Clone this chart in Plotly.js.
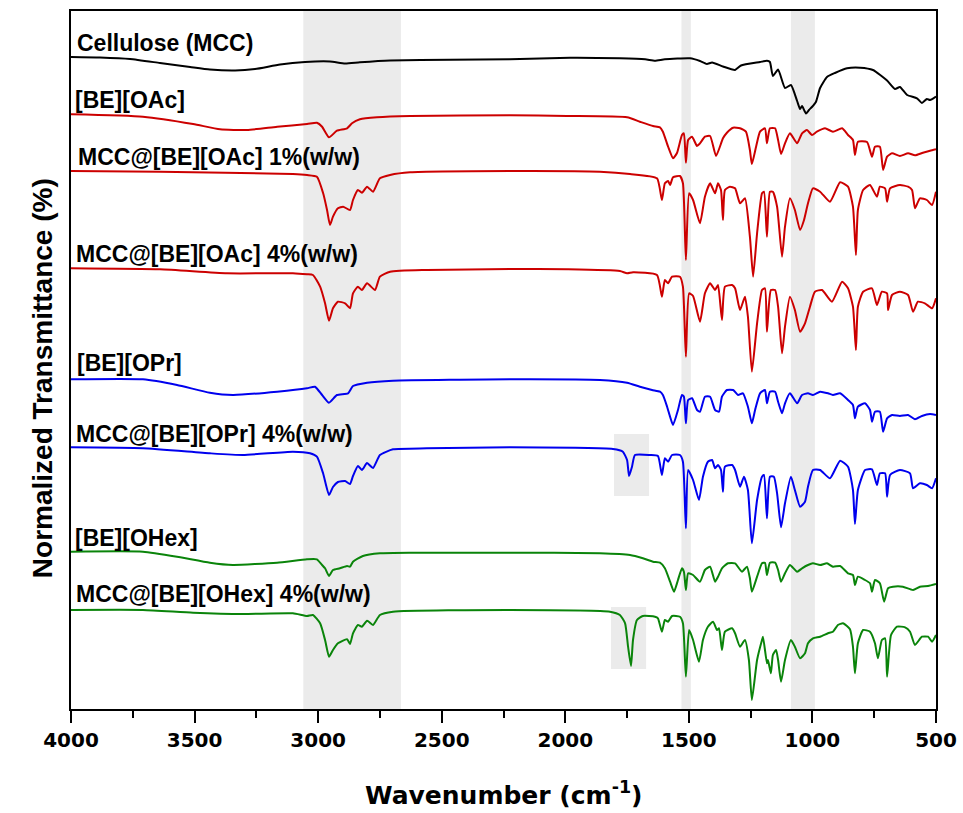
<!DOCTYPE html>
<html><head><meta charset="utf-8">
<script src="https://cdn.plot.ly/plotly-3.0.1.min.js"></script>
<style>html,body{margin:0;padding:0;background:#fff;}#chart{width:963px;height:813px;}</style>
</head><body><div id="chart"></div>
<script>
// ---- Data (wavenumber in cm^-1, offset normalized transmittance in arbitrary units) ----
const wnMCC = [4000,3883,3761,3640,3518,3438,3336,3255,3154,3053,2952,2891,2831,2709,2466,2224,1981,1779,1677,1637,1597,1495,1455,1427,1406,1362,1313,1289,1212,1184,1172,1160,1139,1111,1087,1062,1050,1042,1026,1014,1002,986,969,941,909,860,807,755,698,666,646,617,577,557,537,524,500];
const tMCC = [652,651.5,650,646,642,639.5,638.5,640,644.5,647,647.5,645.5,646.7,648.5,649.3,649.7,651.3,650.7,649.7,648.3,649.7,650.7,648,645,646.5,642.5,639,643.5,647,648.3,647,633,639.5,621,624,608,600,603,595.5,599,602,607,621,632,636,640.7,641.3,639,628.5,620,622,614,610.7,606,610,609,612.5];

const wnOAc = [4000,3709,3506,3397,3288,3166,3045,3005,2984,2956,2924,2883,2863,2831,2762,2628,2224,1993,1750,1698,1645,1617,1605,1584,1564,1548,1528,1520,1512,1503,1487,1467,1455,1435,1414,1390,1362,1346,1321,1293,1269,1253,1245,1228,1212,1192,1184,1172,1151,1139,1127,1111,1091,1062,1042,1022,1002,982,949,917,880,856,836,828,816,779,759,747,727,714,698,678,646,613,585,553,524,500];
const tOAc = [594.7,592.3,585,579.7,579,582.3,585,586.3,582.3,571.7,578.3,580.7,585.7,589.7,591.7,593,593.7,593,591.7,587.3,583,581.7,577.3,562.3,550.7,556,574,575.7,546.3,569,572.3,563,565.7,572.3,573,553,570.7,576.3,581.3,580.7,577.3,559,545,562.3,577.3,580.7,565.7,580.7,580.7,569,555,565.7,575.7,565.7,575.7,579,574,577.3,580.7,577.3,580.7,574,569,554,567.3,567,552.3,562.3,562.3,539,552.3,555.7,553,555.7,553.7,556.3,558.3,559.7];

const wnOAc1 = [4000,3640,3102,3045,3005,2980,2964,2952,2940,2920,2899,2871,2859,2839,2823,2802,2778,2750,2709,2628,2224,1860,1738,1629,1609,1597,1584,1576,1564,1536,1524,1512,1499,1483,1455,1435,1414,1394,1382,1370,1362,1354,1334,1313,1293,1273,1253,1240,1224,1204,1196,1184,1172,1160,1143,1123,1111,1091,1071,1050,1034,1018,998,969,929,888,856,836,824,816,795,767,739,727,706,698,686,646,613,597,585,565,537,516,500];
const tOAc1 = [538,537.3,535,534,532.3,516,499,484,492.3,500.7,502.3,499,509,519,516.3,522.3,517.3,530.7,534,536.7,538,537.3,535,530.7,509,525.7,528,524,531.7,533,525.7,449,515.7,509,485.7,512.3,525.7,515.7,525.7,519,489,519,522.3,520.7,505.7,510.7,472.3,432.3,475.7,515.7,517.3,472.3,517.3,517.3,502.3,452.3,482.3,510.7,499,479,489,505.7,520.7,517.3,507.3,526.7,522.3,502.3,454,499,519,524,512.3,522.3,520.7,507.3,520.7,524,522.3,519,500.7,510.7,509,504,517.3];

const wnOAc4 = [4000,3640,3369,3102,3045,3021,2992,2972,2956,2940,2920,2891,2871,2859,2839,2823,2802,2770,2750,2709,2560,2224,1993,1779,1750,1726,1629,1609,1597,1584,1568,1536,1524,1512,1499,1483,1455,1435,1414,1394,1382,1366,1354,1325,1313,1293,1273,1261,1245,1224,1204,1192,1184,1168,1151,1139,1123,1111,1091,1071,1050,1030,1010,990,961,921,880,856,836,824,816,795,759,739,719,698,694,678,646,613,593,573,545,516,500];
const tOAc4 = [440.7,439.7,435.7,435.7,434.7,434,422.3,405.7,388.3,400.7,407.3,405.7,400.7,415.7,422.3,419,425.7,419,432.3,437.3,439,440,439.7,438,435.7,436.7,434,412.3,429,425.7,432.3,432.3,422.3,352.3,415.7,413,387.3,415.7,425.7,419,424,389,422.3,424,420.7,399,412.3,392.3,337.3,385.7,419,420.7,377.3,419,419,402.3,355.7,382.3,412.3,399,377.3,385.7,402.3,417.3,419,407.3,427.3,420.7,402.3,359,402.3,417.3,420.7,404,417.3,415.7,399,414,417.3,414,397.3,407.3,405.7,400.7,410.7];

const wnOPr = [4000,3709,3571,3438,3345,3166,3045,3013,2984,2956,2924,2879,2859,2802,2697,2224,1860,1750,1698,1649,1617,1605,1588,1576,1564,1544,1528,1520,1512,1503,1487,1467,1455,1435,1414,1394,1378,1366,1346,1321,1301,1281,1261,1245,1232,1212,1192,1184,1172,1151,1139,1123,1111,1091,1062,1042,1018,998,969,937,917,888,856,836,828,816,787,767,759,747,727,714,698,678,646,613,585,557,524,500];
const tOPr = [329.7,329.7,324,316.3,314,317.3,320.7,322.3,314,306.3,314,315.7,323,326.3,328.3,329.7,329,326.3,322.3,319,317.3,314,302.3,292.3,284,299,314,312.3,285.7,309,310.7,299,297.3,312.3,312.3,299,297.3,312.3,319,319,314,315.7,302.3,285.7,299,315.7,319,305.7,317.3,317.3,307.3,295.7,305.7,315.7,305.7,314,315.7,314,317.3,315.7,314,315.7,309,304,290.7,302.3,305.7,299,287.3,297.3,297.3,277.3,290.7,294,293,294,289.7,293,295,294];

const wnOPr4 = [4000,3709,3438,3304,3102,3033,3005,2980,2956,2940,2920,2891,2871,2859,2839,2823,2802,2778,2750,2697,2560,2224,1807,1767,1750,1742,1730,1718,1657,1625,1609,1597,1584,1568,1536,1524,1512,1503,1483,1459,1443,1423,1406,1394,1382,1370,1362,1354,1325,1313,1293,1277,1261,1245,1224,1204,1196,1184,1172,1156,1143,1127,1111,1087,1071,1050,1030,1018,998,969,929,888,856,836,828,816,787,759,739,727,706,698,686,646,605,593,565,537,516,500];
const tOPr4 = [261.7,260.7,255.7,254,257.3,255.7,252.3,235.7,214,222,227,228,225,233,243,239,246,241,254,259.7,260.7,261.7,260,257.3,249,233,242.3,254,254,253,234,250.7,247.3,254,254,247.3,180.7,239,229,209,232.3,247.3,249,240.7,244,239,217.3,242.3,244,239,222.3,232.3,219,165.7,209,232.3,234,190.7,232.3,232.3,215.7,181.7,205.7,232.3,219,202.3,207.3,222.3,239,239,230.7,248.3,242.3,219,185,219,239,239.7,224,235.7,235.7,212.3,234,239,235.7,220.7,225.7,224,220.7,230.7];

const wnOHex = [4000,3709,3571,3438,3345,3166,3045,3005,2984,2972,2956,2940,2912,2883,2871,2859,2819,2750,2628,2224,1860,1738,1686,1645,1617,1597,1576,1560,1544,1528,1520,1512,1503,1483,1455,1435,1414,1394,1382,1366,1342,1313,1285,1265,1253,1245,1224,1204,1192,1184,1172,1151,1139,1127,1111,1091,1062,1042,1018,998,969,941,917,888,856,836,828,816,787,767,759,747,727,710,694,674,634,593,565,532,500];
const tOHex = [157.3,157.3,152.3,146.3,144,146.3,149.7,149.7,144,140.7,133,139,140.7,143,142.3,147.3,153,155.7,156.3,156.3,155.7,154,150.7,147.3,146.3,140.7,127.3,117.3,129,140.7,137.3,119,135.7,134,127.3,139,142.3,127.3,132.3,140.7,145.7,145.7,137.3,142.3,130.7,117.3,132.3,145.7,146.3,134,146.3,146.3,139,127.3,135.7,144,137.3,140.7,144,145.7,144,145.7,142.3,143,135.7,134,124,132.3,129,125.7,117.3,129,125.7,107.3,120.7,122.3,122.3,119,122.3,123,125];

const wnOHex4 = [4000,3709,3506,3304,3102,3045,3021,2992,2972,2956,2940,2920,2883,2871,2859,2839,2823,2802,2778,2750,2697,2224,1819,1779,1758,1746,1734,1726,1710,1686,1637,1625,1609,1597,1584,1568,1536,1524,1512,1499,1483,1459,1443,1423,1402,1386,1378,1366,1354,1325,1313,1293,1273,1257,1245,1224,1204,1200,1184,1180,1168,1160,1147,1139,1127,1111,1087,1071,1050,1030,1018,998,969,937,917,897,876,848,836,828,816,795,767,747,735,719,706,698,682,658,625,605,585,557,532,516,500];
const tOHex4 = [99,99,96.3,95,95.7,93,94,85.7,69,52.3,59,65.7,69.7,65,75.7,84,82.3,88.3,84,94,97.3,99,97.3,94,85.7,62.3,43,69,89,93,92.3,90.7,77.3,89,87.3,93,92.3,85.7,32.3,79,69,47.3,69,82.3,87.3,79,80.7,59,77.3,80.7,75.7,62.3,69,49,9,49,69,72.3,45.7,49,35.7,54,59,49,27.3,49,69,62.3,50.7,55.7,65.7,70.7,72.3,75.7,77.3,84,85.7,79.7,62.3,35.7,65.7,79,77.3,65.7,50.7,69,70.7,32.3,74,82.3,81.7,77.3,64,72.3,72.3,67.3,74];

const seriesLabels = ['Cellulose (MCC)','[BE][OAc]','MCC@[BE][OAc] 1%(w/w)','MCC@[BE][OAc] 4%(w/w)','[BE][OPr]','MCC@[BE][OPr] 4%(w/w)','[BE][OHex]','MCC@[BE][OHex] 4%(w/w)'];
const labelLevels = [666.5,609,552,455,346,275,171,115];
const labelWn = [3984,3992,3980,3988,3984,3988,3992,3988];
const xTickVals = [4000,3500,3000,2500,2000,1500,1000,500];
// highlighted spectral bands (cm^-1)
const bandRanges = [[3060,2665],[1530,1492],[1087,990]];
const carbonylBoxes = [[1803,1661,213,275],[1815,1673,40,102]];

// ---- Build ----
const xs = [wnMCC,wnOAc,wnOAc1,wnOAc4,wnOPr,wnOPr4,wnOHex,wnOHex4];
const ys = [tMCC,tOAc,tOAc1,tOAc4,tOPr,tOPr4,tOHex,tOHex4];
const colors = ['#000000','#cc0000','#cc0000','#cc0000','#0000ee','#0000ee','#0a840a','#0a840a'];

const traces = xs.map((x,i)=>({
  x:x, y:ys[i], type:'scatter', mode:'lines', name:seriesLabels[i],
  line:{color:colors[i], width:2, shape:'spline', smoothing:0.5},
  hoverinfo:'skip'
}));

const shapes = bandRanges.map(b=>({type:'rect', xref:'x', yref:'paper', x0:b[0], x1:b[1], y0:0, y1:1,
  fillcolor:'#ebebeb', line:{width:0}, layer:'below'}));
carbonylBoxes.forEach(b=>shapes.push({type:'rect', xref:'x', yref:'y', x0:b[0], x1:b[1], y0:b[2], y1:b[3],
  fillcolor:'#ebebeb', line:{width:0}, layer:'below'}));

const labelFont = {family:'Liberation Sans, Arial, sans-serif', size:23, color:'#000', weight:'bold'};
const annotations = seriesLabels.map((t,i)=>({
  text:t, xref:'x', yref:'y', x:labelWn[i], y:labelLevels[i], xanchor:'left', yanchor:'middle',
  showarrow:false, font:labelFont
}));
annotations.push({text:'Normalized Transmittance (%)', xref:'paper', yref:'paper', x:-0.0335, y:0.474,
  xanchor:'center', yanchor:'middle', textangle:-90, showarrow:false,
  font:{family:'Liberation Sans, Arial, sans-serif', size:28, color:'#000', weight:'bold'}});
annotations.push({text:'Wavenumber (cm<sup>-1</sup>)', xref:'paper', yref:'paper', x:0.5, y:-0.1215,
  xanchor:'center', yanchor:'middle', showarrow:false,
  font:{family:'DejaVu Sans, sans-serif', size:25, color:'#000', weight:'bold'}});

const layout = {
  width:963, height:813, margin:{l:71, r:27, t:11, b:104},
  paper_bgcolor:'#fff', plot_bgcolor:'#fff', showlegend:false,
  xaxis:{range:[4000,500], autorange:false, tickmode:'array', tickvals:xTickVals,
    ticks:'outside', ticklen:12, tickwidth:2, tickcolor:'#000',
    minor:{dtick:250, tick0:0, ticks:'outside', ticklen:7, tickwidth:2, tickcolor:'#000', showgrid:false},
    showline:true, linewidth:2, linecolor:'#000', mirror:true, showgrid:false, zeroline:false,
    tickfont:{family:'DejaVu Sans, sans-serif', size:20, color:'#000', weight:'bold'}, ticklabelstandoff:0},
  yaxis:{range:[0,698], autorange:false, showline:true, linewidth:2, linecolor:'#000', mirror:true,
    ticks:'', showticklabels:false, showgrid:false, zeroline:false},
  shapes:shapes, annotations:annotations
};
Plotly.newPlot('chart', traces, layout, {displayModeBar:false, staticPlot:true});
</script></body></html>
